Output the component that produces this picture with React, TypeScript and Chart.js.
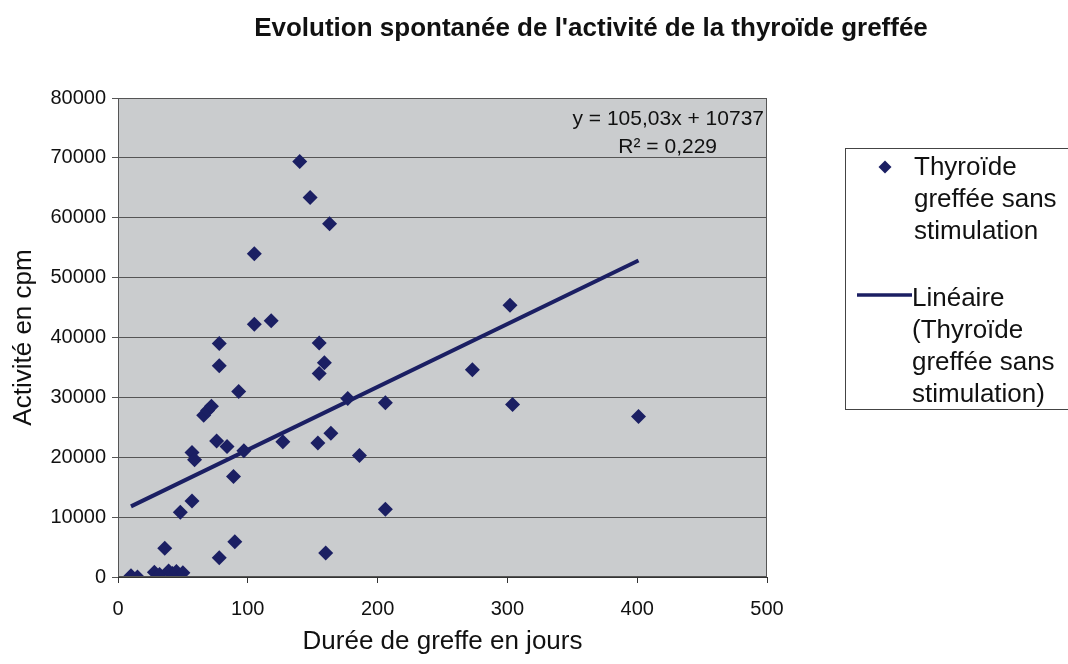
import React, { useEffect, useRef } from "react";
import { Chart, registerables } from "chart.js";

Chart.register(...registerables);

const chartTitle = "Evolution spontanée de l'activité de la thyroïde greffée";
const xTitle = "Durée de greffe en jours";
const yTitle = "Activité en cpm";
const seriesName = ["Thyroïde", "greffée sans", "stimulation"];
const trendName = ["Linéaire", "(Thyroïde", "greffée sans", "stimulation)"];
const equationLine = "y = 105,03x + 10737";
const r2Line = "R² = 0,229";

// durée de greffe (jours)
const days = [10, 15, 28, 32, 36, 39, 42, 45, 48, 50, 57, 57, 59, 66, 69, 72, 76, 78, 78, 78, 84, 89, 90, 93, 97, 105, 105, 118, 127, 140, 148, 154, 155, 155, 159, 160, 163, 164, 177, 186, 206, 206, 273, 302, 304, 401];
// activité (cpm)
const activity = [200, 0, 800, 400, 4800, 1000, 600, 900, 10800, 700, 12700, 20800, 19600, 27000, 27800, 28500, 22700, 39000, 35300, 3200, 21800, 16800, 5900, 31000, 21100, 54000, 42200, 42800, 22600, 69400, 63400, 22400, 34000, 39100, 35800, 4000, 59000, 24000, 29800, 20300, 29100, 11300, 34600, 45400, 28800, 26800];

const trendSlope = 105.03;
const trendIntercept = 10737;

const xMin = 0, xMax = 500, xStep = 100;
const yMin = 0, yMax = 80000, yStep = 10000;

const FONT = "'Liberation Sans', Arial, sans-serif";
const NAVY = "#1b1f63";

export default function App() {
  const ref = useRef<HTMLCanvasElement | null>(null);
  useEffect(() => {
    if (!ref.current) return;
    const pts = days.map((d, i) => ({ x: d, y: activity[i] }));
    const dMin = Math.min(...days);
    const dMax = Math.max(...days);
    const trend = [
      { x: dMin, y: trendSlope * dMin + trendIntercept },
      { x: dMax, y: trendSlope * dMax + trendIntercept },
    ];

    const decor = {
      id: "decor",
      beforeDraw(chart: any) {
        const { ctx, chartArea: a } = chart;
        ctx.save();
        ctx.fillStyle = "#ffffff";
        ctx.fillRect(0, 0, chart.width, chart.height);
        ctx.fillStyle = "#caccce";
        ctx.fillRect(a.left, a.top, a.right - a.left, a.bottom - a.top);
        ctx.restore();
      },
      afterDraw(chart: any) {
        const { ctx, chartArea: a } = chart;
        ctx.save();
        // plot border
        ctx.strokeStyle = "#555";
        ctx.lineWidth = 1;
        ctx.strokeRect(a.left + 0.5, a.top + 0.5, a.right - a.left - 1, a.bottom - a.top - 1);
        // title
        ctx.fillStyle = "#111";
        ctx.textAlign = "center";
        ctx.textBaseline = "alphabetic";
        ctx.font = `bold 26px ${FONT}`;
        ctx.fillText(chartTitle, 591, 36);
        // equation
        ctx.font = `21px ${FONT}`;
        ctx.textAlign = "right";
        ctx.fillText(equationLine, a.right - 3, 125);
        ctx.fillText(r2Line, 717, 153);
        // legend
        const lx = 845, ly = 148;
        ctx.strokeStyle = "#444";
        ctx.strokeRect(lx + 0.5, ly + 0.5, 240, 261);
        ctx.font = `26px ${FONT}`;
        ctx.textAlign = "left";
        ctx.fillStyle = "#111";
        const lh = 32;
        seriesName.forEach((t, i) => ctx.fillText(t, 914, 175 + i * lh));
        trendName.forEach((t, i) => ctx.fillText(t, 912, 306 + i * lh));
        // legend symbols
        ctx.fillStyle = NAVY;
        ctx.beginPath();
        const cx = 885, cy = 167, r = 6.5;
        ctx.moveTo(cx, cy - r);
        ctx.lineTo(cx + r, cy);
        ctx.lineTo(cx, cy + r);
        ctx.lineTo(cx - r, cy);
        ctx.closePath();
        ctx.fill();
        ctx.strokeStyle = NAVY;
        ctx.lineWidth = 3.5;
        ctx.beginPath();
        ctx.moveTo(857, 295);
        ctx.lineTo(912, 295);
        ctx.stroke();
        ctx.restore();
      },
    };

    const chart = new Chart(ref.current, {
      type: "scatter",
      data: {
        datasets: [
          {
            label: "Thyroïde greffée sans stimulation",
            data: pts,
            pointStyle: "rectRot",
            pointRadius: 7.5,
            backgroundColor: NAVY,
            borderColor: NAVY,
            borderWidth: 0,
          },
          {
            type: "line",
            label: "Linéaire (Thyroïde greffée sans stimulation)",
            data: trend,
            showLine: true,
            borderColor: NAVY,
            borderWidth: 4,
            pointRadius: 0,
            fill: false,
          } as any,
        ],
      },
      options: {
        animation: false,
        responsive: false,
        devicePixelRatio: 1,
        layout: { padding: { top: 98, right: 301, left: 0, bottom: 0 } },
        plugins: { legend: { display: false }, tooltip: { enabled: false }, title: { display: false } },
        scales: {
          x: {
            type: "linear",
            min: xMin,
            max: xMax,
            ticks: { stepSize: xStep, color: "#111", font: { family: FONT, size: 20 }, padding: 14, maxRotation: 0, callback: (v: any) => String(v) },
            grid: { drawOnChartArea: false, drawTicks: true, tickLength: 6, color: "#333" },
            border: { display: true, color: "#333" },
            title: { display: true, text: xTitle, color: "#111", font: { family: FONT, size: 26 }, padding: { top: 7, bottom: 7 } },
            afterFit(scale: any) { scale.height = 87; },
          },
          y: {
            type: "linear",
            min: yMin,
            max: yMax,
            ticks: { stepSize: yStep, color: "#111", font: { family: FONT, size: 20 }, padding: 6, callback: (v: any) => String(v) },
            grid: { color: "#555", drawTicks: true, tickLength: 6 },
            border: { display: true, color: "#333" },
            title: { display: true, text: yTitle, color: "#111", font: { family: FONT, size: 26 }, padding: { top: 8, bottom: 8 } },
            afterFit(scale: any) { scale.width = 118; },
          },
        },
      } as any,
      plugins: [decor],
    });
    return () => chart.destroy();
  }, []);

  return (
    <div style={{ position: "absolute", left: 0, top: 0, width: 1068, height: 664, background: "#fff" }}>
      <canvas ref={ref} width={1068} height={664} />
    </div>
  );
}
